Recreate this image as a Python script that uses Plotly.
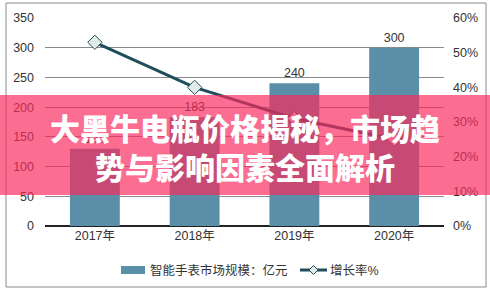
import plotly.graph_objects as go

categories = ["2017年", "2018年", "2019年", "2020年"]
market_size = [130, 183, 240, 300]
growth_rate = [0.53, 0.40, 0.31, 0.25]
bar_name = "智能手表市场规模：亿元"
line_name = "增长率%"
title_lines = ["大黑牛电瓶价格揭秘，市场趋", "势与影响因素全面解析"]

W, H = 490, 292
L, R, T, B = 45, 46, 18, 66
pw, ph = W - L - R, H - T - B
BAR_C = "#5B8FA8"
LINE_C = "#1E4D5C"

def px_x(x):
    return (x - L) / pw

def px_y(y):
    return (H - B - y) / ph

fig = go.Figure()
fig.add_trace(go.Bar(
    x=categories, y=market_size, name=bar_name,
    marker=dict(color=BAR_C, line=dict(width=0)),
    width=0.5, showlegend=False,
    text=[str(v) for v in market_size], textposition="outside",
    textfont=dict(size=12.5, color="#333333"), cliponaxis=False,
))
fig.add_trace(go.Scatter(
    x=categories, y=growth_rate, name=line_name, yaxis="y2",
    mode="lines+markers", showlegend=False,
    line=dict(color=LINE_C, width=3),
    marker=dict(symbol="diamond", size=11, color="#E2EBE7",
                line=dict(color=LINE_C, width=1)),
))

# legend drawn by hand
ly = 270
shapes = [
    dict(type="rect", xref="paper", yref="paper",
         x0=px_x(6), x1=px_x(486), y0=px_y(287), y1=px_y(3),
         line=dict(color="#8A8A8A", width=1), fillcolor="rgba(0,0,0,0)",
         layer="below"),
    dict(type="rect", xref="paper", yref="paper",
         x0=px_x(121), x1=px_x(145), y0=px_y(ly + 4), y1=px_y(ly - 4),
         line=dict(width=0), fillcolor=BAR_C),
    dict(type="line", xref="paper", yref="paper",
         x0=px_x(300), x1=px_x(327), y0=px_y(ly), y1=px_y(ly),
         line=dict(color=LINE_C, width=3)),
    dict(type="path", xref="paper", yref="paper",
         path=f"M {px_x(313.5)} {px_y(ly-4.5)} L {px_x(318)} {px_y(ly)} L {px_x(313.5)} {px_y(ly+4.5)} L {px_x(309)} {px_y(ly)} Z",
         line=dict(color=LINE_C, width=1), fillcolor="#E2EBE7"),
    dict(type="rect", xref="paper", yref="paper",
         x0=px_x(0), x1=px_x(490), y0=px_y(195), y1=px_y(95),
         line=dict(width=0), fillcolor="rgba(250,42,93,0.68)", layer="above"),
]

fig.update_layout(
    width=W, height=H,
    margin=dict(l=L, r=R, t=T, b=B),
    paper_bgcolor="white", plot_bgcolor="white",
    font=dict(family="Liberation Sans, Arial, Noto Sans CJK SC", size=12.5, color="#333333"),
    showlegend=False,
    xaxis=dict(showgrid=False, showline=False, ticks="", tickfont=dict(size=12.5),
               zeroline=False),
    yaxis=dict(range=[0, 350], dtick=50, showgrid=True, gridcolor="#8A8A8A",
               gridwidth=1, zeroline=True, zerolinecolor="#222222", zerolinewidth=1.5,
               showline=False, ticks="", ticklabelstandoff=10, tickfont=dict(size=12.5)),
    yaxis2=dict(range=[0, 0.6], dtick=0.1, tickformat=".0%", overlaying="y",
                side="right", showgrid=False, zeroline=False, showline=False,
                ticks="", ticklabelstandoff=8, tickfont=dict(size=12.5)),
    shapes=shapes,
    annotations=[
        dict(xref="paper", yref="paper", x=px_x(148), y=px_y(ly),
             xanchor="left", yanchor="middle", showarrow=False,
             text=bar_name, font=dict(size=12.5, color="#333333")),
        dict(xref="paper", yref="paper", x=px_x(328), y=px_y(ly),
             xanchor="left", yanchor="middle", showarrow=False,
             text=line_name, font=dict(size=12.5, color="#333333")),
        dict(xref="paper", yref="paper", x=px_x(245), y=px_y(146),
             xanchor="center", yanchor="middle", showarrow=False,
             text="<br>".join(title_lines),
             font=dict(family="Noto Sans CJK SC", size=30, color="white", weight=900)),
    ],
)

fig.write_html("out.html")
